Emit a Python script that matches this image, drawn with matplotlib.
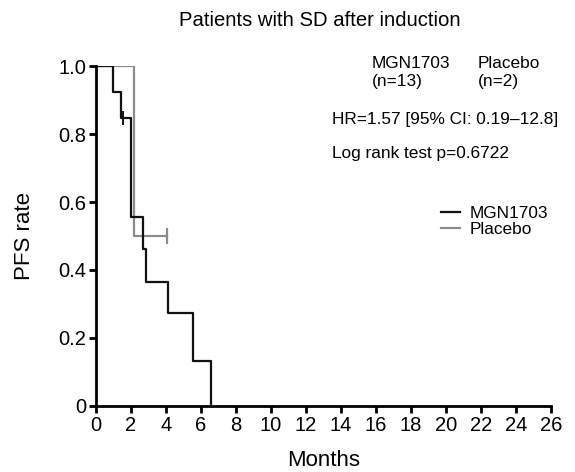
import matplotlib.pyplot as plt

plt.rcParams.update({
    "font.family": ["Liberation Sans", "DejaVu Sans"],
    "axes.linewidth": 2.0,
})

# Kaplan-Meier step data
mgn_months = [0, 0.95, 1.41, 1.98, 2.70, 2.83, 4.13, 5.52, 6.55]
mgn_rate = [1.0, 0.923, 0.846, 0.555, 0.461, 0.366, 0.273, 0.132, 0.0]
mgn_censor_months = [1.56]
mgn_censor_rate = [0.846]

pbo_months = [0, 2.17, 4.08]
pbo_rate = [1.0, 0.5, 0.5]
pbo_censor_months = [4.08]
pbo_censor_rate = [0.5]

x_ticks = list(range(0, 27, 2))
y_ticks = [0, 0.2, 0.4, 0.6, 0.8, 1.0]
y_labels = ["0", "0.2", "0.4", "0.6", "0.8", "1.0"]

BLACK = "#111111"
GREY = "#8c8c8c"

fig = plt.figure(figsize=(5.75, 4.72), dpi=100)
ax = fig.add_axes([0.167, 0.140, 0.791, 0.720])

ax.step(pbo_months, pbo_rate, where="post", color=GREY, lw=1.6, label="Placebo")
ax.plot(pbo_censor_months, pbo_censor_rate, ls="none", marker="|", ms=12, mew=1.6, color=GREY)
ax.step(mgn_months, mgn_rate, where="post", color=BLACK, lw=1.6, label="MGN1703")
ax.plot(mgn_censor_months, mgn_censor_rate, ls="none", marker="|", ms=10, mew=1.4, color=BLACK)

ax.set_xlim(0, 26)
ax.set_ylim(0, 1.0)
ax.set_xticks(x_ticks)
ax.set_yticks(y_ticks)
ax.set_yticklabels(y_labels)
ax.tick_params(direction="out", length=5, width=2, labelsize=14.5, pad=2)
for s in ["top", "right"]:
    ax.spines[s].set_visible(False)
ax.spines["left"].set_bounds(0, 1.0)
for sp in ax.spines.values():
    sp.set_clip_on(False)

ax.set_xlabel("Months", fontsize=16, labelpad=11)
ax.set_ylabel("PFS rate", fontsize=16, labelpad=17)
fig.text(0.557, 0.957, "Patients with SD after induction", fontsize=14.6, ha="center", va="center")

ax.text(0.607, 1.03, "MGN1703\n(n=13)", transform=ax.transAxes, fontsize=12.4, va="top", linespacing=1.3)
ax.text(0.840, 1.03, "Placebo\n(n=2)", transform=ax.transAxes, fontsize=12.4, va="top", linespacing=1.3)
ax.text(0.518, 0.843, "HR=1.57 [95% CI: 0.19\u201312.8]", transform=ax.transAxes, fontsize=12.4, va="center")
ax.text(0.518, 0.743, "Log rank test p=0.6722", transform=ax.transAxes, fontsize=12.4, va="center")

handles, labels = ax.get_legend_handles_labels()
ax.legend(handles[::-1], labels[::-1], loc="upper left", bbox_to_anchor=(0.74, 0.615),
          frameon=False, fontsize=12.4, handlelength=1.1, handletextpad=0.55,
          labelspacing=0.1, borderpad=0)

fig.savefig("out.png", dpi=100)
